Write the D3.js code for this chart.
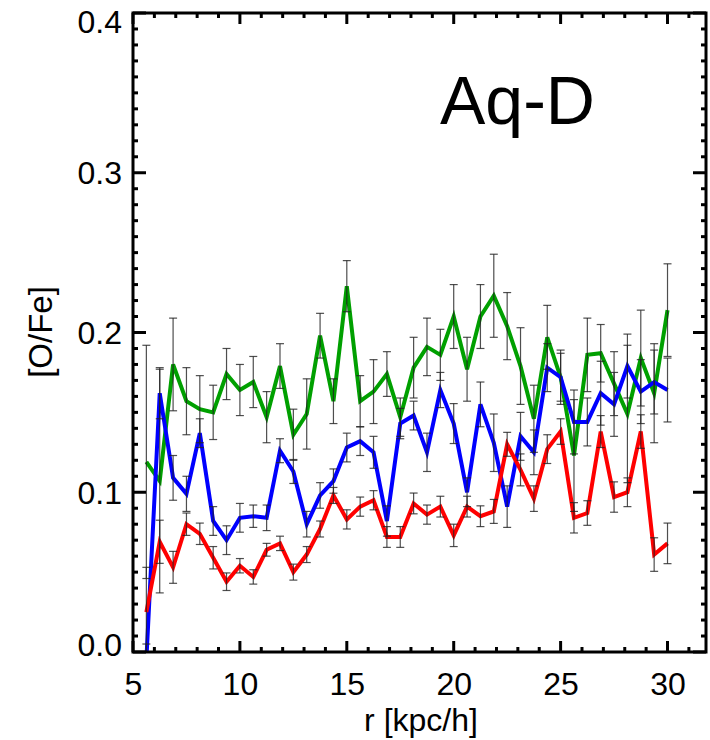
<!DOCTYPE html>
<html><head><meta charset="utf-8">
<script src="https://cdn.jsdelivr.net/npm/d3@7"></script>
<style>html,body{margin:0;padding:0;background:#fff;}svg{display:block;}</style>
</head><body>
<svg id="chart" width="710" height="740"></svg>
<script>
const radius = [5.625,6.25,6.875,7.5,8.125,8.75,9.375,10,10.625,11.25,11.875,12.5,13.125,13.75,14.375,15,15.625,16.25,16.875,17.5,18.125,18.75,19.375,20,20.625,21.25,21.875,22.5,23.125,23.75,24.375,25,25.625,26.25,26.875,27.5,28.125,28.75,29.375,30];

const greenVals = [0.119,0.107,0.180,0.157,0.152,0.150,0.174,0.164,0.169,0.147,0.179,0.136,0.149,0.198,0.157,0.229,0.157,0.163,0.174,0.147,0.178,0.191,0.186,0.210,0.177,0.210,0.223,0.204,0.179,0.146,0.197,0.172,0.123,0.186,0.187,0.168,0.149,0.184,0.162,0.214];
const greenErr  = [0.073,0.070,0.029,0.021,0.021,0.017,0.016,0.016,0.016,0.016,0.014,0.016,0.022,0.014,0.014,0.016,0.016,0.020,0.014,0.012,0.019,0.018,0.016,0.020,0.020,0.020,0.026,0.021,0.024,0.021,0.020,0.017,0.035,0.023,0.018,0.020,0.043,0.030,0.031,0.029];

const blueVals = [-0.005,0.162,0.109,0.099,0.137,0.082,0.070,0.084,0.085,0.084,0.126,0.113,0.080,0.098,0.107,0.128,0.132,0.125,0.082,0.143,0.148,0.125,0.164,0.143,0.100,0.155,0.131,0.091,0.135,0.125,0.178,0.172,0.144,0.144,0.162,0.155,0.179,0.163,0.169,0.164];
const blueErr  = [0.010,0.016,0.014,0.011,0.009,0.009,0.009,0.009,0.007,0.008,0.0075,0.0075,0.008,0.008,0.0076,0.009,0.009,0.010,0.0095,0.0095,0.009,0.012,0.011,0.0125,0.009,0.014,0.018,0.013,0.015,0.014,0.015,0.015,0.020,0.015,0.020,0.020,0.020,0.020,0.020,0.020];

const redVals = [0.025,0.069,0.053,0.080,0.074,0.059,0.044,0.054,0.047,0.064,0.068,0.050,0.061,0.077,0.098,0.083,0.091,0.095,0.072,0.072,0.093,0.086,0.091,0.073,0.091,0.085,0.088,0.130,0.114,0.096,0.127,0.138,0.084,0.087,0.138,0.097,0.100,0.138,0.061,0.068];
const redErr  = [0.028,0.0135,0.010,0.007,0.0067,0.007,0.0055,0.0045,0.0045,0.004,0.0045,0.005,0.005,0.005,0.005,0.006,0.006,0.006,0.0065,0.0065,0.0065,0.006,0.0065,0.007,0.0065,0.0065,0.0075,0.0075,0.010,0.008,0.009,0.008,0.0095,0.0077,0.010,0.0095,0.009,0.0105,0.0105,0.0127];

const xTicks = [5,10,15,20,25,30];
const yTicks = [0.0,0.1,0.2,0.3,0.4];
const yTickLabels = ["0.0","0.1","0.2","0.3","0.4"];
const seriesColors = ["#00a000","#0000ff","#ff0000"];

const L = 133, R = 706, T = 13, B = 652;
const x = d3.scaleLinear().domain([5, 31.8]).range([L, R]);
const y = d3.scaleLinear().domain([0, 0.4]).range([B, T]);

const svg = d3.select("#chart");
const font = "'Liberation Sans', Arial, Helvetica, sans-serif";

svg.append("defs").append("clipPath").attr("id","clip")
  .append("rect").attr("x",L).attr("y",T).attr("width",R-L).attr("height",B-T);

const series = [
  {vals: greenVals, err: greenErr, color: seriesColors[0]},
  {vals: blueVals, err: blueErr, color: seriesColors[1]},
  {vals: redVals, err: redErr, color: seriesColors[2]}
];

const plot = svg.append("g").attr("clip-path","url(#clip)");
const line = d3.line().x((d,i)=>x(radius[i])).y(d=>y(d));

series.forEach(s => {
  plot.append("path").datum(s.vals).attr("d", line)
    .attr("fill","none").attr("stroke", s.color).attr("stroke-width",4)
    .attr("stroke-linejoin","miter");
});

// error bars
series.forEach(s => {
  const g = plot.append("g").attr("stroke","#222").attr("stroke-opacity",0.8).attr("stroke-width",1.2);
  s.vals.forEach((v,i) => {
    const cx = x(radius[i]);
    const y1 = y(v + s.err[i]), y2 = y(v - s.err[i]);
    g.append("line").attr("x1",cx).attr("x2",cx).attr("y1",y1).attr("y2",y2);
    g.append("line").attr("x1",cx-4).attr("x2",cx+4).attr("y1",y1).attr("y2",y1);
    g.append("line").attr("x1",cx-4).attr("x2",cx+4).attr("y1",y2).attr("y2",y2);
  });
});

// axes labels
const xMajor = d3.axisBottom(x).tickValues(xTicks).tickSize(0).tickFormat(d3.format("d")).tickPadding(0);
const ax = svg.append("g").attr("transform",`translate(0,${B})`).call(xMajor);
ax.select(".domain").remove();
ax.selectAll("text").attr("font-family",font).attr("font-size",32).attr("fill","#000").attr("dy",0).attr("y",43);

const yAx = d3.axisLeft(y).tickValues(yTicks).tickSize(0).tickFormat((d,i)=>yTickLabels[i]).tickPadding(0);
const ay = svg.append("g").attr("transform",`translate(${L},0)`).call(yAx);
ay.select(".domain").remove();
ay.selectAll("text").attr("font-family",font).attr("font-size",32).attr("fill","#000").attr("x",-11)
  .attr("dy",(d)=> d===0 ? "0.1em" : (d===0.4 ? "0.6em" : "0.35em"));

// tick marks (inward, all four sides)
const tickG = svg.append("g").attr("stroke","#000").attr("stroke-width",3);
const xMinor = d3.range(5, 32, 1);
xMinor.forEach(v => {
  const len = (v % 5 === 0) ? 11 : 5;
  tickG.append("line").attr("x1",x(v)).attr("x2",x(v)).attr("y1",B).attr("y2",B-len);
  tickG.append("line").attr("x1",x(v)).attr("x2",x(v)).attr("y1",T).attr("y2",T+len);
});
const yMinor = d3.range(0, 41, 1).map(k => k/100);
yMinor.forEach((v,k) => {
  const len = (k % 10 === 0) ? 13 : 5;
  tickG.append("line").attr("x1",L).attr("x2",L+len).attr("y1",y(v)).attr("y2",y(v));
  tickG.append("line").attr("x1",R).attr("x2",R-len).attr("y1",y(v)).attr("y2",y(v));
});

svg.append("rect").attr("x",L).attr("y",T).attr("width",R-L).attr("height",B-T)
  .attr("fill","none").attr("stroke","#000").attr("stroke-width",3);

// labels
svg.append("text").attr("x",421).attr("y",731).attr("text-anchor","middle")
  .attr("font-family",font).attr("font-size",32).text("r [kpc/h]");
svg.append("text").attr("transform","translate(52,332) rotate(-90)").attr("text-anchor","middle")
  .attr("font-family",font).attr("font-size",33).text("[O/Fe]");
svg.append("text").attr("x",440).attr("y",124)
  .attr("font-family",font).attr("font-size",68).text("Aq-D");
</script>
</body></html>
